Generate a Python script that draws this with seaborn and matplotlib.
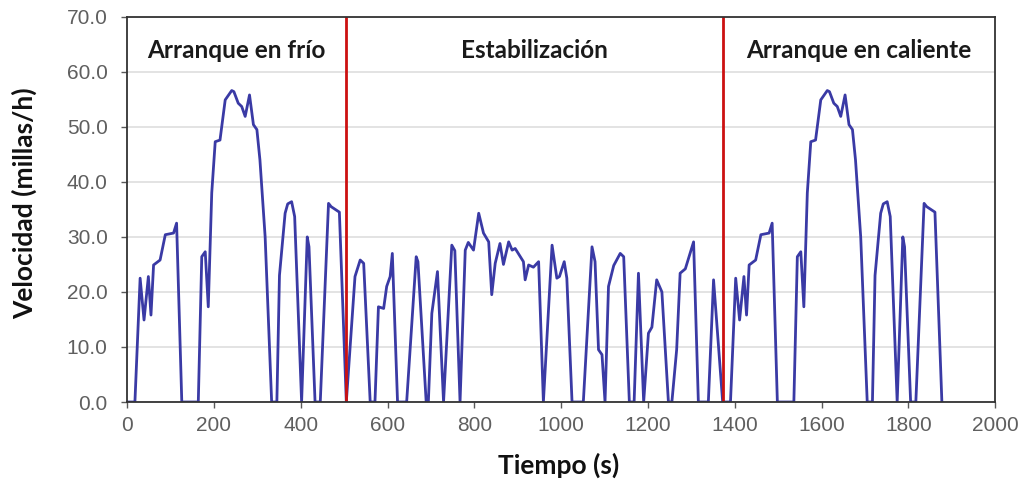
import matplotlib
matplotlib.use("Agg")
import matplotlib.pyplot as plt
import numpy as np
import pandas as pd
import seaborn as sns

# Cold-start phase (0-505 s): time [s], speed [mph]
cold_t = [0, 18, 30, 39, 49, 55, 61, 76, 88, 107, 114, 126, 164, 172, 180, 187,
          195, 203, 214, 226, 241, 246, 256, 264, 272, 282, 291, 299, 306, 318,
          333, 345, 351, 364, 370, 379, 386, 402, 415, 419, 433, 445, 464, 470,
          489, 505]
cold_v = [0, 0, 22.5, 14.9, 22.8, 15.8, 24.9, 25.8, 30.4, 30.7, 32.5, 0, 0, 26.4,
          27.3, 17.3, 38.0, 47.3, 47.6, 54.9, 56.6, 56.4, 54.3, 53.7, 51.9, 55.8,
          50.4, 49.5, 44.0, 30.0, 0, 0, 23.0, 34.3, 36.0, 36.4, 33.7, 0, 30.0,
          28.2, 0, 0, 36.1, 35.5, 34.5, 0]

# Stabilized phase (505-1372 s)
stab_t = [525, 537, 545, 560, 571, 579, 591, 598, 606, 611, 623, 644, 666, 670,
          689, 694, 702, 715, 729, 748, 755, 767, 779, 786, 798, 810, 821, 833,
          840, 848, 859, 867, 879, 887, 894, 906, 913, 917, 925, 936, 948, 959,
          979, 990, 996, 1007, 1013, 1025, 1051, 1071, 1078, 1086, 1094, 1101,
          1109, 1121, 1136, 1144, 1157, 1168, 1178, 1190, 1201, 1209, 1220, 1232,
          1247, 1255, 1266, 1274, 1286, 1305, 1316, 1339, 1351, 1372]
stab_v = [22.8, 25.8, 25.2, 0, 0, 17.3, 17.0, 21.0, 22.8, 27.0, 0, 0, 26.4, 25.5,
          0, 0, 16.1, 23.7, 0, 28.5, 27.5, 0, 27.6, 29.0, 27.6, 34.3, 30.7, 29.1,
          19.5, 25.2, 28.8, 25.0, 29.1, 27.6, 27.9, 26.4, 25.5, 22.2, 24.9, 24.5,
          25.5, 0, 28.5, 22.5, 22.8, 25.5, 22.5, 0, 0, 28.2, 25.5, 9.5, 8.6, 0,
          21.0, 24.8, 27.0, 26.4, 0, 0, 23.4, 0, 12.5, 13.6, 22.2, 20.0, 0, 0,
          9.5, 23.4, 24.2, 29.1, 0, 0, 22.2, 0]

# Hot-start phase repeats the cold-start trace from 1372 s
hot_start = 1372
phase_bounds = [0, 505, hot_start, 2000]
phase_names = ["Arranque en frío", "Estabilización", "Arranque en caliente"]

df = pd.DataFrame({
    "t": list(cold_t) + stab_t + [hot_start + t for t in cold_t[1:]],
    "v": list(cold_v) + stab_v + cold_v[1:],
})

sns.set_style("white")
plt.rcParams["font.family"] = ["Lato", "DejaVu Sans"]

fig, ax = plt.subplots(figsize=(10.25, 4.8), dpi=100)
fig.subplots_adjust(left=0.124, right=0.971, bottom=0.1625, top=0.965)

ax.grid(axis="y", color="#dedede", linewidth=1.2)
ax.set_axisbelow(True)
sns.lineplot(data=df, x="t", y="v", ax=ax, color="#3a3aa5", linewidth=2.0,
             sort=False, estimator=None)

for b in phase_bounds[1:3]:
    ax.axvline(b, color="#cc1111", linewidth=2.0)

for i, name in enumerate(phase_names):
    xc = (phase_bounds[i] + phase_bounds[i + 1]) / 2
    ax.text(xc, 63.8, name, ha="center", va="center", fontsize=17.5,
            fontweight="bold", color="#1a1a1a")

ax.set_xlim(0, 2000)
ax.set_ylim(0, 70)
ax.set_xticks(np.arange(0, 2001, 200))
ax.set_yticks(np.arange(0, 71, 10))
ax.set_yticklabels([f"{v:.1f}" for v in np.arange(0, 71, 10)])
ax.tick_params(axis="both", colors="#595959", direction="out", length=4, width=1,
               left=True, bottom=True)
ax.tick_params(axis="x", pad=6)
ax.tick_params(axis="y", pad=10)
for lbl in ax.get_xticklabels() + ax.get_yticklabels():
    lbl.set_family("Liberation Sans")
    lbl.set_fontsize(15)
    lbl.set_color("#5f5f5f")
for s in ax.spines.values():
    s.set_color("#333333")
    s.set_linewidth(1.3)

ax.set_xlabel("Tiempo (s)", fontsize=19, fontweight="bold", color="#111111")
ax.set_ylabel("Velocidad (millas/h)", fontsize=19, fontweight="bold", color="#111111")
ax.xaxis.set_label_coords(0.497, -0.132)
ax.yaxis.set_label_coords(-0.104, 0.515)

fig.savefig("out.png", dpi=100)
